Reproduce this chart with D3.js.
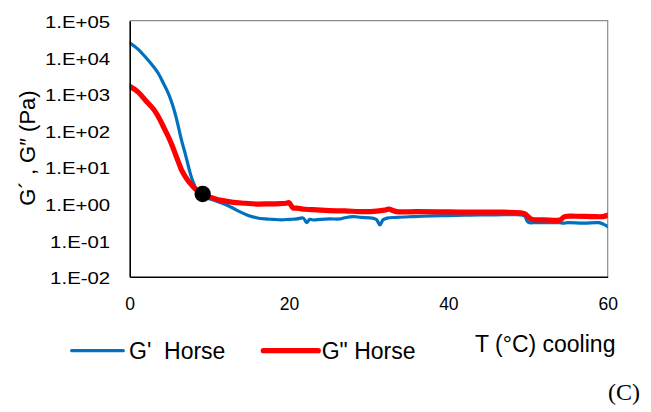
<!DOCTYPE html>
<html>
<head>
<meta charset="utf-8">
<script src="https://cdn.jsdelivr.net/npm/d3@7"></script>
<style>
  html, body { margin: 0; padding: 0; background: #fff; }
  svg { display: block; font-family: "Liberation Sans", Arial, sans-serif; }
</style>
</head>
<body>
<svg id="chart" width="651" height="412"></svg>
<script>
// Temperature (°C) during cooling
const tempGp = [0, 1, 2, 3, 3.6, 4.2, 4.85, 5.3, 5.7, 6.0, 6.3, 6.6, 6.95, 7.3, 7.6, 7.9, 8.2, 8.6, 9.0, 9.5,
  10.5, 11.7, 12.8, 13.8, 14.8, 15.9, 17, 18, 19, 20.1, 21, 21.8, 22.2, 22.6, 23, 24, 25.1, 26.4, 27, 28.1,
  29, 30.5, 31.0, 31.4, 31.8, 32.3, 33.5, 35.6, 38, 40, 42, 44, 46, 48, 49.2, 49.6, 50.0, 51, 53, 54,
  54.4, 55, 57, 58.9, 59.5, 60];
// Storage modulus G' (Pa)
const gPrime = [25000, 17000, 10000, 5500, 3600, 2000, 1030, 560, 290, 160, 83, 45, 24, 12, 6.7, 4.2, 2.9, 2.1, 1.7, 1.45,
  1.25, 1.0, 0.78, 0.6, 0.48, 0.41, 0.38, 0.37, 0.36, 0.37, 0.38, 0.40, 0.30, 0.37, 0.355, 0.37, 0.38, 0.38, 0.41, 0.44,
  0.42, 0.40, 0.36, 0.26, 0.36, 0.40, 0.42, 0.44, 0.46, 0.47, 0.48, 0.49, 0.49, 0.50, 0.49, 0.45, 0.31, 0.30, 0.30, 0.30,
  0.29, 0.30, 0.29, 0.30, 0.27, 0.235];

const tempGpp = [0, 1, 2, 3, 3.6, 4.2, 4.85, 5.3, 5.7, 6.1, 6.5, 6.9, 7.4, 7.9, 8.4, 9.0, 9.6, 10.5, 11.5, 13,
  14.5, 15.9, 17.5, 18.9, 19.6, 20.0, 20.5, 21, 22, 23.5, 25, 27, 29.3, 31, 32.0, 32.5, 33.5, 36, 40, 44,
  47, 49, 49.6, 50.5, 52, 54, 54.6, 56, 58, 59.4, 60];
// Loss modulus G'' (Pa)
const gDouble = [1600, 1150, 660, 380, 237, 130, 67, 40, 23.6, 14, 8.3, 5.8, 4.0, 3.0, 2.35, 1.9, 1.6, 1.39, 1.22, 1.08,
  1.02, 0.97, 0.98, 1.0, 1.02, 1.05, 0.76, 0.75, 0.70, 0.67, 0.64, 0.63, 0.60, 0.62, 0.66, 0.70, 0.60, 0.60, 0.59, 0.58,
  0.58, 0.56, 0.52, 0.37, 0.36, 0.355, 0.44, 0.45, 0.44, 0.44, 0.48];

// Crossover point G' = G''
const crossover = [9.16, 1.82];

const xTicks = [0, 20, 40, 60];
const yTicks = [1e-2, 1e-1, 1e0, 1e1, 1e2, 1e3, 1e4, 1e5];
const yTickLabels = ["1.E-02", "1.E-01", "1.E+00", "1.E+01", "1.E+02", "1.E+03", "1.E+04", "1.E+05"];

const seriesNames = ["G'\u00A0 Horse", "G\" Horse"];
const colors = ["#0070C0", "#FF0000"];

const svg = d3.select("#chart");
const plotLeft = 129.7, plotRight = 607.7, plotTop = 20.7, plotBottom = 276.7;

const x = d3.scaleLinear().domain([0, 60]).range([plotLeft, plotRight]);
const y = d3.scaleLog().domain([1e-2, 1e5]).range([plotBottom, plotTop]);

// Plot frame: light top/right edges
svg.append("path")
  .attr("d", `M${plotLeft},${plotTop}H${plotRight}V${plotBottom}`)
  .attr("fill", "none").attr("stroke", "#8c8c8c").attr("stroke-width", 1.2);

svg.append("defs").append("clipPath").attr("id", "plotclip")
  .append("rect").attr("x", plotLeft).attr("y", plotTop - 2)
  .attr("width", plotRight - plotLeft).attr("height", plotBottom - plotTop + 4);

const line = d3.line().x(d => x(d[0])).y(d => y(d[1])).curve(d3.curveCatmullRom.alpha(0.5));

const plot = svg.append("g").attr("clip-path", "url(#plotclip)");
plot.append("path")
  .attr("d", line(d3.zip(tempGp, gPrime)))
  .attr("fill", "none").attr("stroke", colors[0]).attr("stroke-width", 3.2)
  .attr("stroke-linejoin", "round").attr("stroke-linecap", "round");
plot.append("path")
  .attr("d", line(d3.zip(tempGpp, gDouble)))
  .attr("fill", "none").attr("stroke", colors[1]).attr("stroke-width", 5.2)
  .attr("stroke-linejoin", "round").attr("stroke-linecap", "round");

svg.append("circle")
  .attr("cx", x(crossover[0])).attr("cy", y(crossover[1])).attr("r", 8.2)
  .attr("fill", "#000");

// Axes (no tick marks)
const xAxis = d3.axisBottom(x).tickValues(xTicks).tickSize(0).tickPadding(0).tickFormat(d3.format("d"));
const gx = svg.append("g").attr("transform", `translate(0,${plotBottom})`).call(xAxis);
gx.select(".domain").attr("stroke", "#000").attr("stroke-width", 1.6);
gx.selectAll("text").attr("y", 0).attr("dy", 0)
  .attr("transform", "translate(0,33)")
  .attr("font-size", 17.5).attr("fill", "#000").attr("font-family", "Liberation Sans, Arial, sans-serif");

const yAxis = d3.axisLeft(y).tickValues(yTicks).tickSize(0).tickPadding(0)
  .tickFormat((d, i) => yTickLabels[i]);
const gy = svg.append("g").attr("transform", `translate(${plotLeft},0)`).call(yAxis);
gy.select(".domain").attr("stroke", "#000").attr("stroke-width", 1.6);
gy.selectAll(".tick text")
  .attr("x", 0).attr("dy", 0)
  .attr("transform", "translate(-19.5,7) scale(1.2,1)")
  .attr("font-size", 17).attr("fill", "#000").attr("font-family", "Liberation Sans, Arial, sans-serif");

// Y axis title
svg.append("text")
  .attr("transform", `translate(35,148) rotate(-90)`)
  .attr("text-anchor", "middle")
  .attr("font-size", 22).attr("fill", "#000")
  .text("G´ , G″ (Pa)");

// Legend
const legendItems = [
  { x1: 71.7, x2: 123.3, tx: 129, w: 3.2 },
  { x1: 263.3, x2: 318.3, tx: 321.7, w: 5.2 }
];
legendItems.forEach((d, i) => {
  svg.append("line")
    .attr("x1", d.x1).attr("x2", d.x2).attr("y1", 350.7).attr("y2", 350.7)
    .attr("stroke", colors[i]).attr("stroke-width", d.w).attr("stroke-linecap", "round");
  svg.append("text")
    .attr("x", d.tx).attr("y", 359.3)
    .attr("font-size", 23).attr("fill", "#000")
    .text(seriesNames[i]);
});

// X axis title
svg.append("text")
  .attr("x", 475).attr("y", 351.7)
  .attr("font-size", 23).attr("fill", "#000")
  .text("T (°C) cooling");

// Panel label
svg.append("text")
  .attr("x", 640).attr("y", 400).attr("text-anchor", "end")
  .attr("font-size", 24).attr("fill", "#000")
  .attr("font-family", "Liberation Serif, 'Times New Roman', serif")
  .text("(C)");
</script>
</body>
</html>
